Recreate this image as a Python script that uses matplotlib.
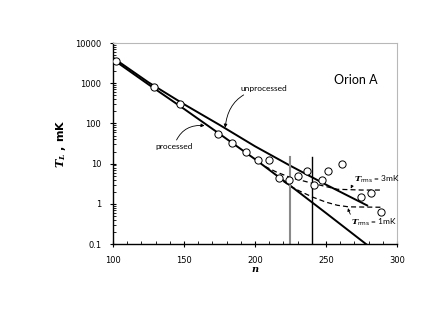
import numpy as np
import matplotlib
matplotlib.use("Agg")
import matplotlib.pyplot as plt
from matplotlib.ticker import FixedLocator, NullFormatter, LogLocator

plt.rcParams['font.family'] = 'DejaVu Sans'
plt.rcParams['mathtext.fontset'] = 'custom'
plt.rcParams['mathtext.it'] = 'DejaVu Serif:italic:bold'
plt.rcParams['mathtext.rm'] = 'DejaVu Sans'

# ------------------------------------------------------------------
# Data
# ------------------------------------------------------------------
obs_n = [102, 129, 147, 174, 184, 194, 202, 210, 217, 224, 230.5, 236.4,
         241.5, 247, 251.6, 261.5, 274.4, 282, 289]
obs_T = [3670, 822, 299, 54, 33, 20, 12, 12.5, 4.4, 3.9, 5.0, 6.5,
         3.0, 3.9, 6.5, 9.6, 1.5, 1.9, 0.62]

unproc_n = [100, 125, 150, 175, 200, 225, 250, 279]
unproc_T = [4300, 1050, 300, 92, 27, 8.8, 3.0, 0.91]

proc_n = [100, 125, 150, 175, 200, 225, 250, 280]
proc_T = [3900, 930, 230, 55, 12.9, 2.8, 0.59, 0.089]

rms3_n = [207, 215, 225, 241, 258, 275, 290]
rms3_T = [8.5, 6.2, 4.5, 3.2, 2.3, 2.2, 2.2]

rms1_n = [220, 226, 233, 241, 250, 258, 266, 290]
rms1_T = [3.6, 2.6, 1.95, 1.45, 1.1, 0.92, 0.84, 0.82]

vline_gray = 225
vline_black = 240
vline_top = 15

# ------------------------------------------------------------------
# Figure
# ------------------------------------------------------------------
fig = plt.figure(figsize=(4.44, 3.14), dpi=100)
ax = fig.add_axes([0.2545, 0.2229, 0.6396, 0.6401])

ax.plot(unproc_n, unproc_T, '-', color='k', lw=1.4)
ax.plot(proc_n, proc_T, '-', color='k', lw=1.4)
ax.plot(rms3_n, rms3_T, '--', color='k', lw=0.9, dashes=(4, 2.5))
ax.plot(rms1_n, rms1_T, '--', color='k', lw=0.9, dashes=(4, 2.5))
ax.plot(obs_n, obs_T, 'o', ms=5.2, mfc='white', mec='k', mew=0.7, zorder=5)

ax.plot([vline_gray, vline_gray], [0.1, vline_top], color='#8a8a8a', lw=1.5)
ax.plot([vline_black, vline_black], [0.1, vline_top], color='k', lw=1.0)

ax.set_yscale('log')
ax.set_xlim(100, 300)
ax.set_ylim(0.1, 10000)

ax.xaxis.set_major_locator(FixedLocator([100, 150, 200, 250, 300]))
ax.xaxis.set_minor_locator(FixedLocator(np.arange(100, 301, 10)))
ax.yaxis.set_minor_locator(LogLocator(base=10, subs=np.arange(2, 10), numticks=20))
ax.yaxis.set_minor_formatter(NullFormatter())
ax.set_yticks([0.1, 1, 10, 100, 1000, 10000])
ax.set_yticklabels(['0.1', '1', '10', '100', '1000', '10000'])

ax.tick_params(which='major', direction='inout', length=5, width=0.8, labelsize=6, pad=6)
ax.tick_params(which='minor', direction='in', length=2.5, width=0.6)
ax.tick_params(axis='x', which='both', top=False)
ax.tick_params(axis='y', which='both', right=False)

for s in ['left', 'bottom']:
    ax.spines[s].set_color('k')
    ax.spines[s].set_linewidth(1.0)
for s in ['top', 'right']:
    ax.spines[s].set_color('#b8b8b8')
    ax.spines[s].set_linewidth(0.8)

ax.set_xlabel('n', fontstyle='italic', fontweight='bold', family='DejaVu Serif',
              fontsize=7, labelpad=0)
ax.set_ylabel(r'$T_L$ , mK', fontsize=8, fontweight='bold', labelpad=5)

ax.text(0.856, 0.816, 'Orion A', transform=ax.transAxes, fontsize=9,
        family='Lato', ha='center', va='center')

# annotations
ax.annotate('unprocessed', xy=(179, 78), xytext=(189.5, 600), fontsize=6,
            family='Lato', ha='left', va='bottom',
            arrowprops=dict(arrowstyle='-|>', color='k', lw=0.6,
                            mutation_scale=5, shrinkA=0, shrinkB=0,
                            connectionstyle='arc3,rad=0.4'))
ax.annotate('processed', xy=(164.5, 88), xytext=(143, 33), fontsize=6,
            family='Lato', ha='center', va='top',
            arrowprops=dict(arrowstyle='-|>', color='k', lw=0.6,
                            mutation_scale=5, shrinkA=0, shrinkB=0,
                            connectionstyle='arc3,rad=-0.4'))
ax.annotate(r'$T_{\rm rms}$ = 3mK', xy=(267.5, 2.4), xytext=(269.5, 4.1),
            fontsize=6, family='Lato', ha='left', va='center',
            arrowprops=dict(arrowstyle='-|>', color='k', lw=0.6,
                            mutation_scale=4, shrinkA=0, shrinkB=0,
                            connectionstyle='arc3,rad=0.5'))
ax.annotate(r'$T_{\rm rms}$ = 1mK', xy=(265.5, 0.78), xytext=(267.5, 0.34),
            fontsize=6, family='Lato', ha='left', va='center',
            arrowprops=dict(arrowstyle='-|>', color='k', lw=0.6,
                            mutation_scale=4, shrinkA=0, shrinkB=0,
                            connectionstyle='arc3,rad=-0.5'))

fig.savefig('out.png', dpi=100)
